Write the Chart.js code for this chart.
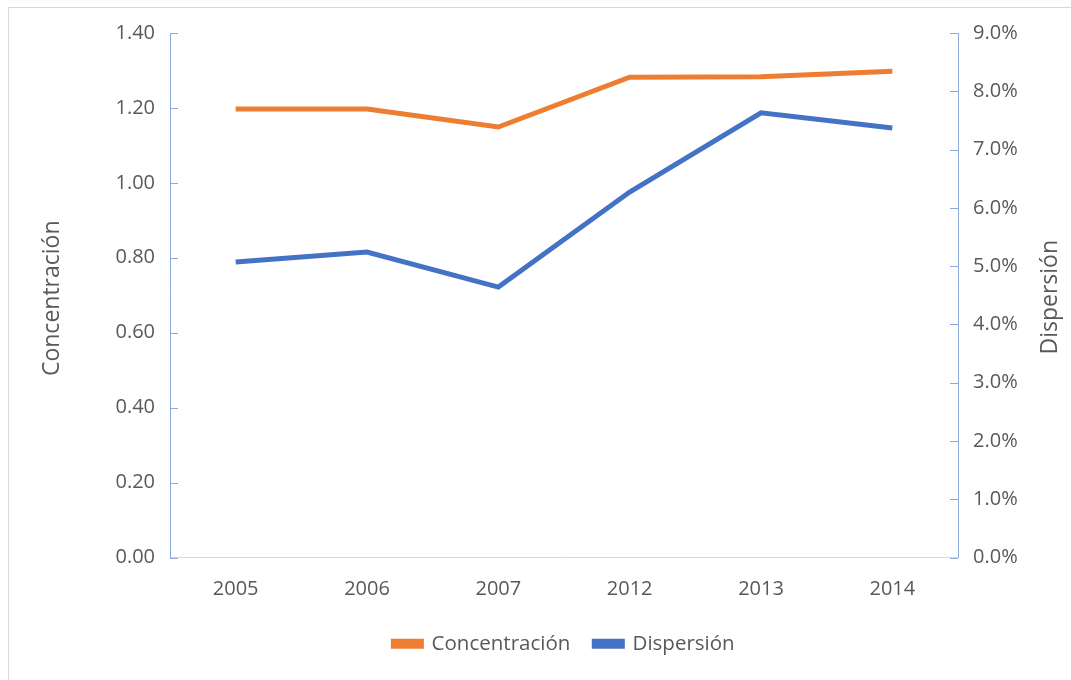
<!DOCTYPE html>
<html>
<head>
<meta charset="utf-8">
<script src="https://cdn.jsdelivr.net/npm/chart.js@4"></script>
<style>
  html, body { margin: 0; padding: 0; background: #fff; }
  #wrap { position: relative; width: 1071px; height: 680px; overflow: hidden; }
  #frame { position: absolute; left: 8px; top: 7px; width: 1200px; height: 800px; border: 1px solid #d9d9d9; }
  canvas { position: absolute; left: 0; top: 0; }
</style>
</head>
<body>
<div id="wrap">
  <div id="frame"></div>
  <canvas id="chart" width="1071" height="680"></canvas>
</div>
<script>
// Datos
const categories = ['2005', '2006', '2007', '2012', '2013', '2014'];
const concentracion = [1.197, 1.197, 1.149, 1.282, 1.283, 1.298];
const dispersion = [5.07, 5.24, 4.64, 6.27, 7.63, 7.37]; // en %
const leftTitle = 'Concentración';
const rightTitle = 'Dispersión';

const textColor = '#595959';
const axisBlue = '#8faadc';
const fontFamily = "'Open Sans', 'Noto Sans', sans-serif";

// Marcas de eje hacia dentro y títulos de eje
const axisExtras = {
    id: 'axisExtras',
    afterDraw(chart) {
        const ctx = chart.ctx;
        const area = chart.chartArea;
        const yL = chart.scales.y;
        const yR = chart.scales.y1;
        ctx.save();
        ctx.strokeStyle = axisBlue;
        ctx.lineWidth = 1;
        yL.ticks.forEach(t => {
            const py = Math.round(yL.getPixelForValue(t.value)) + 0.5;
            ctx.beginPath();
            ctx.moveTo(area.left, py);
            ctx.lineTo(area.left + 8, py);
            ctx.stroke();
        });
        yR.ticks.forEach(t => {
            const py = Math.round(yR.getPixelForValue(t.value)) + 0.5;
            ctx.beginPath();
            ctx.moveTo(area.right - 8, py);
            ctx.lineTo(area.right, py);
            ctx.stroke();
        });
        // títulos rotados
        ctx.fillStyle = textColor;
        ctx.font = '23px ' + fontFamily;
        ctx.textAlign = 'center';
        ctx.textBaseline = 'middle';
        const cy = (area.top + area.bottom) / 2;
        ctx.translate(52, cy + 3);
        ctx.rotate(-Math.PI / 2);
        ctx.fillText(leftTitle, 0, 0);
        ctx.setTransform(1, 0, 0, 1, 0, 0);
        ctx.translate(1050, cy + 2);
        ctx.rotate(-Math.PI / 2);
        ctx.fillText(rightTitle, 0, 0);
        ctx.restore();
    }
};

new Chart(document.getElementById('chart'), {
    type: 'line',
    data: {
        labels: categories,
        datasets: [
            {
                label: 'Concentración',
                data: concentracion,
                yAxisID: 'y',
                borderColor: '#ed7d31',
                backgroundColor: '#ed7d31',
                borderWidth: 5,
                pointRadius: 0,
                tension: 0
            },
            {
                label: 'Dispersión',
                data: dispersion,
                yAxisID: 'y1',
                borderColor: '#4472c4',
                backgroundColor: '#4472c4',
                borderWidth: 5,
                pointRadius: 0,
                tension: 0
            }
        ]
    },
    options: {
        responsive: false,
        animation: false,
        layout: { padding: { top: 33, left: 0, right: 0, bottom: 16 } },
        plugins: {
            legend: {
                position: 'bottom',
                fullSize: false,
                labels: {
                    color: textColor,
                    font: { family: fontFamily, size: 20.5 },
                    boxWidth: 28,
                    boxHeight: 5,
                    padding: 24
                }
            },
            tooltip: { enabled: false }
        },
        scales: {
            x: {
                offset: true,
                grid: { display: true, drawOnChartArea: false, drawTicks: false },
                border: { color: '#d9d9d9', width: 1 },
                ticks: { color: textColor, font: { family: fontFamily, size: 20 }, padding: 20 },
                afterFit(scale) { scale.height = 52; }
            },
            y: {
                position: 'left',
                min: 0,
                max: 1.4,
                grid: { display: true, drawOnChartArea: false, drawTicks: false },
                border: { color: axisBlue, width: 1 },
                ticks: {
                    stepSize: 0.2,
                    color: textColor,
                    font: { family: fontFamily, size: 20 },
                    padding: 15,
                    callback: v => v.toFixed(2)
                },
                afterFit(scale) { scale.width = 170; }
            },
            y1: {
                position: 'right',
                min: 0,
                max: 9,
                grid: { display: true, drawOnChartArea: false, drawTicks: false },
                border: { color: axisBlue, width: 1 },
                ticks: {
                    stepSize: 1,
                    color: textColor,
                    font: { family: fontFamily, size: 20 },
                    padding: 15,
                    callback: v => v.toFixed(1) + '%'
                },
                afterFit(scale) { scale.width = 113; }
            }
        }
    },
    plugins: [axisExtras]
});
</script>
</body>
</html>
